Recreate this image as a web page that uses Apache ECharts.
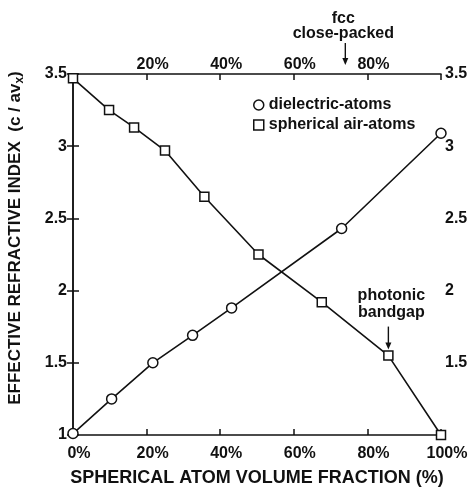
<!DOCTYPE html>
<html><head><meta charset="utf-8">
<script src="https://cdn.jsdelivr.net/npm/echarts@6/dist/echarts.min.js"></script>
<style>html,body{margin:0;padding:0;background:#fff}#c{width:472px;height:487px}</style>
</head><body><div id="c"></div>
<script>
// ---- data ----
const seriesNames = ['dielectric-atoms', 'spherical air-atoms'];
const dielectricX = [0, 10.5, 21.7, 32.5, 43.1, 73.0, 100];
const dielectricY = [1.01, 1.25, 1.50, 1.69, 1.88, 2.43, 3.09];
const airX = [0, 9.8, 16.6, 25.0, 35.7, 50.4, 67.6, 85.7, 100];
const airY = [3.47, 3.25, 3.13, 2.97, 2.65, 2.25, 1.92, 1.55, 1.00];
const xTickValues = [0, 20, 40, 60, 80, 100];
const yTickValues = [1, 1.5, 2, 2.5, 3, 3.5];
const fccFraction = [74];            // fcc close-packed volume fraction (%)
const bandgapPoint = [85.7, 1.55];   // photonic bandgap annotation target
const xTitle = 'SPHERICAL ATOM VOLUME FRACTION (%)';
const fccText = ['fcc', 'close-packed'];
const bandgapText = ['photonic', 'bandgap'];

const FONT = "'Liberation Sans', Arial, Helvetica, sans-serif";
const INK = '#111';

const chart = echarts.init(document.getElementById('c'), null, {renderer: 'canvas'});

function pairs(xs, ys) { return xs.map((x, i) => [x, ys[i]]); }

const axisCommon = {
  type: 'value',
  axisLine: {show: true, lineStyle: {color: INK, width: 1.5}},
  axisTick: {show: true, inside: true, length: 6, lineStyle: {color: INK, width: 1.5}},
  splitLine: {show: false},
};
const labelFont = {color: INK, fontFamily: FONT, fontWeight: 'bold', fontSize: 16};

const option = {
  animation: false,
  backgroundColor: '#fff',
  grid: {left: 73, right: 31, top: 74, bottom: 52, containLabel: false, outerBoundsMode: 'none'},
  xAxis: [
    Object.assign({}, axisCommon, {
      position: 'bottom', min: xTickValues[0], max: xTickValues[xTickValues.length - 1],
      interval: xTickValues[1] - xTickValues[0],
      axisLabel: Object.assign({}, labelFont, {margin: 11, padding: [0, 0, 0, 12], formatter: v => v + '%'}),
      name: xTitle, nameLocation: 'middle', nameGap: 34,
      nameTextStyle: {color: INK, fontFamily: FONT, fontWeight: 'bold', fontSize: 18}
    }),
    Object.assign({}, axisCommon, {
      position: 'top', min: xTickValues[0], max: xTickValues[xTickValues.length - 1],
      interval: xTickValues[1] - xTickValues[0],
      axisLabel: Object.assign({}, labelFont, {margin: 1, padding: [0, 0, 0, 12],
        formatter: v => (v === 0 || v === 100) ? '' : v + '%'})
    })
  ],
  yAxis: [
    Object.assign({}, axisCommon, {
      position: 'left', min: yTickValues[0], max: yTickValues[yTickValues.length - 1],
      interval: yTickValues[1] - yTickValues[0],
      axisLabel: Object.assign({}, labelFont, {margin: 6, padding: [3, 0, 0, 0]})
    }),
    Object.assign({}, axisCommon, {
      position: 'right', min: yTickValues[0], max: yTickValues[yTickValues.length - 1],
      interval: yTickValues[1] - yTickValues[0],
      axisLabel: Object.assign({}, labelFont, {margin: 4, padding: [3, 0, 0, 0], formatter: v => v === 1 ? '' : String(v)})
    })
  ],
  legend: {
    orient: 'vertical', left: 253, top: 97, padding: 0, itemGap: 4,
    itemWidth: 10, itemHeight: 10,
    textStyle: {color: INK, fontFamily: FONT, fontWeight: 'bold', fontSize: 16},
    data: [
      {name: seriesNames[0], icon: 'circle', itemStyle: {color: '#fff', borderColor: INK, borderWidth: 1.5}},
      {name: seriesNames[1], icon: 'rect', itemStyle: {color: '#fff', borderColor: INK, borderWidth: 1.5}}
    ]
  },
  series: [
    {
      name: seriesNames[0], type: 'line', xAxisIndex: 0, yAxisIndex: 0,
      data: pairs(dielectricX, dielectricY),
      symbol: 'circle', symbolSize: 10, showAllSymbol: true, clip: false,
      lineStyle: {color: INK, width: 1.6},
      itemStyle: {color: '#fff', borderColor: INK, borderWidth: 1.5}, z: 3
    },
    {
      name: seriesNames[1], type: 'line', xAxisIndex: 0, yAxisIndex: 0,
      data: pairs(airX, airY),
      symbol: 'rect', symbolSize: 9, showAllSymbol: true, clip: false,
      lineStyle: {color: INK, width: 1.6},
      itemStyle: {color: '#fff', borderColor: INK, borderWidth: 1.5}, z: 3
    }
  ]
};
chart.setOption(option);

// annotations placed from data coordinates
const fccPx = chart.convertToPixel({xAxisIndex: 0, yAxisIndex: 0}, [fccFraction[0], yTickValues[yTickValues.length - 1]]);
const bgPx = chart.convertToPixel({xAxisIndex: 0, yAxisIndex: 0}, bandgapPoint);
const annFont = {fill: INK, fontFamily: FONT, fontWeight: 'bold', fontSize: 16, align: 'center', verticalAlign: 'middle'};
function arrow(x, y0, y1) {
  return [
    {type: 'line', shape: {x1: x, y1: y0, x2: x, y2: y1 - 6}, style: {stroke: INK, lineWidth: 1.4}},
    {type: 'polygon', shape: {points: [[x - 3, y1 - 7], [x + 3, y1 - 7], [x, y1]]}, style: {fill: INK}}
  ];
}
const topY = fccPx[1];
const graphic = [
  {type: 'text', x: fccPx[0] - 2, y: 19, style: Object.assign({text: fccText[0]}, annFont)},
  {type: 'text', x: fccPx[0] - 2, y: 34, style: Object.assign({text: fccText[1]}, annFont)},
  ...arrow(fccPx[0], topY - 31, topY - 9),
  {type: 'text', x: bgPx[0] + 3, y: bgPx[1] - 60, style: Object.assign({text: bandgapText[0]}, annFont)},
  {type: 'text', x: bgPx[0] + 3, y: bgPx[1] - 43, style: Object.assign({text: bandgapText[1]}, annFont)},
  ...arrow(bgPx[0], bgPx[1] - 29, bgPx[1] - 6),
  {type: 'text', x: 15, y: 238, rotation: Math.PI / 2,
    style: {
      text: '{t|EFFECTIVE REFRACTIVE INDEX  (c / av}{s|x}{t|)}',
      align: 'center', verticalAlign: 'middle',
      rich: {
        t: {fill: INK, fontFamily: FONT, fontWeight: 'bold', fontSize: 17, lineHeight: 22},
        s: {fill: INK, fontFamily: FONT, fontWeight: 'bold', fontSize: 12, lineHeight: 14, verticalAlign: 'bottom'}
      }
    }}
];
chart.setOption({graphic: graphic});
</script>
</body></html>
